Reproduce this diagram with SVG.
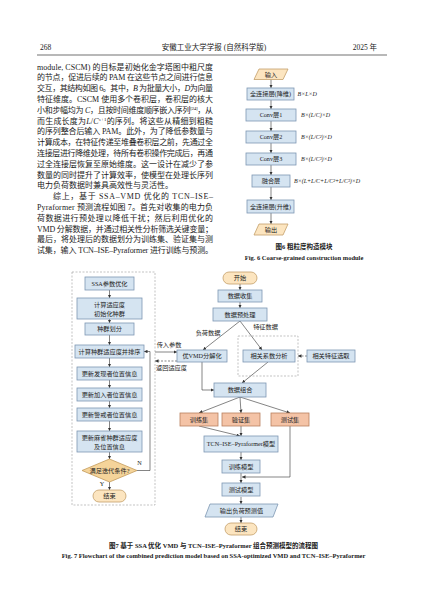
<svg xmlns="http://www.w3.org/2000/svg" width="427" height="603" viewBox="0 0 427 603">
<defs>
<style>
.pg{font-family:"Liberation Serif","Noto Sans CJK SC",serif;fill:#1a1a1a}
.body{font-size:8px}
.hd{font-size:7.5px}
.bx{fill:#d5e4f1;stroke:#7d97b3;stroke-width:0.8}
.term{fill:#fce5c0;stroke:#c4a06a;stroke-width:0.8}
.set{fill:#f4c3a6;stroke:#b9805f;stroke-width:0.8}
.dia{fill:#f5d49a;stroke:#c39a5a;stroke-width:0.8}
.t{font-family:"Liberation Serif","Noto Sans CJK SC",serif;font-size:6.2px;text-anchor:middle;fill:#222}
.lab{font-family:"Liberation Serif","Noto Sans CJK SC",serif;font-size:6px;font-style:italic;fill:#222}
.cap{font-family:"Liberation Serif","Noto Sans CJK SC",serif;font-size:6.5px;font-weight:bold;text-anchor:middle;fill:#1a1a1a}
.c{fill:none;stroke:#333;stroke-width:0.6}
.dash{stroke-dasharray:2 1.5}
.dbox{fill:none;stroke:#9a9a9a;stroke-width:0.6;stroke-dasharray:2 1.5}
.i{font-style:italic}
</style>
<marker id="ah" viewBox="0 0 6 6" refX="6" refY="3" markerWidth="3.5" markerHeight="3.5" orient="auto" markerUnits="userSpaceOnUse"><path d="M0,0 L6,3 L0,6 z" fill="#333"/></marker>
</defs>
<rect width="427" height="603" fill="#ffffff"/>

<!-- header -->
<g id="header" class="pg hd">
<text x="40" y="49.5">268</text>
<text x="214" y="49.5" text-anchor="middle">安徽工业大学学报 (自然科学版)</text>
<text x="377" y="49.5" text-anchor="end">2025 年</text>
<line x1="37" y1="55" x2="387" y2="55" stroke="#333" stroke-width="0.7"/>
</g>

<!-- body text -->
<g id="bodytext" class="pg body">
<text x="37" y="69.5" textLength="176" lengthAdjust="spacing">module, CSCM) 的目标是初始化金字塔图中粗尺度</text>
<text x="37" y="80.3" textLength="176" lengthAdjust="spacing">的节点，促进后续的 PAM 在这些节点之间进行信息</text>
<text x="37" y="91.1" textLength="176" lengthAdjust="spacing">交互，其结构如图 6。其中，<tspan class="i">B</tspan> 为批量大小，<tspan class="i">D</tspan>为向量</text>
<text x="37" y="101.9" textLength="176" lengthAdjust="spacing">特征维度。CSCM 使用多个卷积层，卷积层的核大</text>
<text x="37" y="112.7" textLength="176" lengthAdjust="spacing">小和步幅均为 <tspan class="i">C</tspan>，且按时间维度顺序嵌入序列<tspan font-size="5" dy="-3">[24]</tspan><tspan dy="3">，从</tspan></text>
<text x="37" y="123.5" textLength="176" lengthAdjust="spacing">而生成长度为<tspan class="i">L</tspan>/<tspan class="i">C</tspan><tspan font-size="5" dy="-3" class="i">s</tspan><tspan font-size="5">+1</tspan><tspan dy="3">的序列。将这些从精细到粗糙</tspan></text>
<text x="37" y="134.3" textLength="176" lengthAdjust="spacing">的序列整合后输入 PAM。此外，为了降低参数量与</text>
<text x="37" y="145.1" textLength="176" lengthAdjust="spacing">计算成本，在特征传递至堆叠卷积层之前，先通过全</text>
<text x="37" y="155.9" textLength="176" lengthAdjust="spacing">连接层进行降维处理，待所有卷积操作完成后，再通</text>
<text x="37" y="166.7" textLength="176" lengthAdjust="spacing">过全连接层恢复至原始维度。这一设计在减少了参</text>
<text x="37" y="177.5" textLength="176" lengthAdjust="spacing">数量的同时提升了计算效率，使模型在处理长序列</text>
<text x="37" y="188.3">电力负荷数据时兼具高效性与灵活性。</text>
<text x="53" y="199.1" textLength="160" lengthAdjust="spacing">综上，基于 SSA–VMD 优化的 TCN–ISE–</text>
<text x="37" y="209.9" textLength="176" lengthAdjust="spacing">Pyraformer 预测流程如图 7。首先对收集的电力负</text>
<text x="37" y="220.7" textLength="176" lengthAdjust="spacing">荷数据进行预处理以降低干扰；然后利用优化的</text>
<text x="37" y="231.5" textLength="176" lengthAdjust="spacing">VMD 分解数据，并通过相关性分析筛选关键变量；</text>
<text x="37" y="242.3" textLength="176" lengthAdjust="spacing">最后，将处理后的数据划分为训练集、验证集与测</text>
<text x="37" y="253.1" textLength="176" lengthAdjust="spacing">试集，输入 TCN–ISE–Pyraformer 进行训练与预测。</text>
</g>

<!-- ===== Fig 6 ===== -->
<g id="f6-connectors">
<line class="c" x1="271" y1="79.5" x2="271" y2="88" marker-end="url(#ah)"/>
<line class="c" x1="271" y1="100" x2="271" y2="109" marker-end="url(#ah)"/>
<line class="c" x1="271" y1="121" x2="271" y2="131" marker-end="url(#ah)"/>
<line class="c" x1="271" y1="143" x2="271" y2="153" marker-end="url(#ah)"/>
<line class="c" x1="271" y1="165" x2="271" y2="175" marker-end="url(#ah)"/>
<line class="c" x1="271" y1="187" x2="271" y2="200" marker-end="url(#ah)"/>
<line class="c" x1="271" y1="213" x2="271" y2="224" marker-end="url(#ah)"/>
</g>
<g id="f6-in"><polygon class="term" points="259,69 288,69 283,79.5 254,79.5"/><text class="t" x="271" y="76.6">输入</text></g>
<g id="f6-fc1"><rect class="bx" x="247" y="88" width="47" height="12"/><text class="t" x="270.5" y="96.2">全连接层(降维)</text><text class="lab" x="297.5" y="96.2">B×L×D</text></g>
<g id="f6-c1"><rect class="bx" x="246" y="109" width="50" height="12"/><text class="t" x="271" y="117.2">Conv层1</text><text class="lab" x="301" y="117.2">B×(L/C)×D</text></g>
<g id="f6-c2"><rect class="bx" x="246" y="131" width="50" height="12"/><text class="t" x="271" y="139.2">Conv层2</text><text class="lab" x="301" y="139.2">B×(L/C²)×D</text></g>
<g id="f6-c3"><rect class="bx" x="246" y="153" width="50" height="12"/><text class="t" x="271" y="161.2">Conv层3</text><text class="lab" x="301" y="161.2">B×(L/C³)×D</text></g>
<g id="f6-fuse"><rect class="bx" x="252" y="175" width="38" height="12"/><text class="t" x="271" y="183.2">融合层</text><text class="lab" x="294" y="183.2">B×(L+L/C+L/C²+L/C³)×D</text></g>
<g id="f6-fc2"><rect class="bx" x="247" y="200" width="47" height="13"/><text class="t" x="270.5" y="208.7">全连接层(升维)</text></g>
<g id="f6-out"><polygon class="term" points="259,224 288,224 283,235 254,235"/><text class="t" x="271" y="231.8">输出</text></g>
<g id="f6-caption">
<text class="cap" x="304" y="248.5">图6  粗粒度构造模块</text>
<text class="cap" x="304" y="259.5">Fig. 6   Coarse-grained construction module</text>
</g>

<!-- ===== Fig 7 ===== -->
<g id="f7-connectors">
<!-- SSA column -->
<line class="c" x1="109.5" y1="290" x2="109.5" y2="298" marker-end="url(#ah)"/>
<line class="c" x1="109.5" y1="319" x2="109.5" y2="323" marker-end="url(#ah)"/>
<line class="c" x1="109.5" y1="335" x2="109.5" y2="345" marker-end="url(#ah)"/>
<line class="c" x1="109.5" y1="358" x2="109.5" y2="367" marker-end="url(#ah)"/>
<line class="c" x1="109.5" y1="380" x2="109.5" y2="388" marker-end="url(#ah)"/>
<line class="c" x1="109.5" y1="401" x2="109.5" y2="408" marker-end="url(#ah)"/>
<line class="c" x1="109.5" y1="421" x2="109.5" y2="431" marker-end="url(#ah)"/>
<line class="c" x1="109.5" y1="452" x2="109.5" y2="459" marker-end="url(#ah)"/>
<line class="c" x1="109.5" y1="482" x2="109.5" y2="490" marker-end="url(#ah)"/>
<polyline class="c" points="137,470.5 150,470.5 150,351.5 144,351.5" marker-end="url(#ah)"/>
<!-- links SSA <-> VMD -->
<line class="c" x1="155" y1="352" x2="177" y2="352" marker-end="url(#ah)"/>
<line class="c dash" x1="177" y1="361" x2="155" y2="361" marker-end="url(#ah)"/>
<!-- main column -->
<line class="c" x1="240" y1="284" x2="240" y2="290" marker-end="url(#ah)"/>
<line class="c" x1="240" y1="302" x2="240" y2="308" marker-end="url(#ah)"/>
<line class="c" x1="240" y1="321" x2="203" y2="350" marker-end="url(#ah)"/>
<line class="c" x1="240" y1="321" x2="262" y2="350" marker-end="url(#ah)"/>
<line class="c dash" x1="307" y1="356" x2="298" y2="356" marker-end="url(#ah)"/>
<polyline class="c" points="202,362 202,390 214,390" marker-end="url(#ah)"/>
<line class="c" x1="268" y1="362" x2="242" y2="383" marker-end="url(#ah)"/>
<line class="c" x1="240" y1="397" x2="199" y2="413" marker-end="url(#ah)"/>
<line class="c" x1="240" y1="397" x2="241" y2="413" marker-end="url(#ah)"/>
<line class="c" x1="240" y1="397" x2="290" y2="413" marker-end="url(#ah)"/>
<line class="c" x1="199" y1="426" x2="240" y2="436" marker-end="url(#ah)"/>
<line class="c" x1="241" y1="426" x2="241" y2="436" marker-end="url(#ah)"/>
<line class="c" x1="241" y1="452" x2="241" y2="460" marker-end="url(#ah)"/>
<line class="c" x1="241" y1="473" x2="241" y2="483" marker-end="url(#ah)"/>
<polyline class="c" points="290,426 290,477 242,477" marker-end="url(#ah)"/>
<line class="c" x1="241" y1="497" x2="241" y2="504" marker-end="url(#ah)"/>
<line class="c" x1="241" y1="517" x2="241" y2="523" marker-end="url(#ah)"/>
<!-- connector labels -->
<text class="t" x="169" y="347">传入参数</text>
<text class="t" x="171.5" y="370">返回适应度</text>
<text class="t" x="208" y="335">负荷数据</text>
<text class="t" x="265.5" y="328.5">特征数据</text>
<text class="t" x="139.5" y="464.5" font-size="6.5">N</text>
<text class="t" x="102" y="485.5" font-size="6.5">Y</text>
</g>

<g id="ssa-frame"><rect class="dbox" x="72" y="272" width="83" height="233"/></g>
<g id="ssa-opt"><rect class="bx" x="85" y="277" width="49" height="13"/><text class="t" x="109.5" y="285.7">SSA参数优化</text></g>
<g id="calc-fit"><rect class="bx" x="77" y="298" width="65" height="21"/><text class="t" x="109.5" y="306.5">计算适应度</text><text class="t" x="109.5" y="315.5">初始化种群</text></g>
<g id="pop-div"><rect class="bx" x="85" y="323" width="49" height="12"/><text class="t" x="109.5" y="331.2">种群划分</text></g>
<g id="fit-sort"><rect class="bx" x="75" y="345" width="69" height="13"/><text class="t" x="109.5" y="353.7">计算种群适应度并排序</text></g>
<g id="upd-finder"><rect class="bx" x="77" y="367" width="65" height="13"/><text class="t" x="109.5" y="375.7">更新发现者位置信息</text></g>
<g id="upd-joiner"><rect class="bx" x="77" y="388" width="65" height="13"/><text class="t" x="109.5" y="396.7">更新加入者位置信息</text></g>
<g id="upd-guard"><rect class="bx" x="77" y="408" width="65" height="13"/><text class="t" x="109.5" y="416.7">更新警戒者位置信息</text></g>
<g id="upd-all"><rect class="bx" x="77" y="431" width="65" height="21"/><text class="t" x="109.5" y="439.5">更新麻雀种群适应度</text><text class="t" x="109.5" y="448.5">及位置信息</text></g>
<g id="iter-cond"><polygon class="dia" points="109.5,459 137,470.5 109.5,482 82,470.5"/><text class="t" x="109.5" y="472.7">满足迭代条件?</text></g>
<g id="ssa-end"><rect class="term" x="93" y="490" width="33" height="12" rx="6"/><text class="t" x="109.5" y="498.2">结束</text></g>

<g id="start"><rect class="term" x="223" y="272" width="34" height="12" rx="6"/><text class="t" x="240" y="280.2">开始</text></g>
<g id="collect"><rect class="bx" x="218" y="290" width="44" height="12"/><text class="t" x="240" y="298.2">数据收集</text></g>
<g id="preproc"><rect class="bx" x="213" y="308" width="54" height="13"/><text class="t" x="240" y="316.7">数据预处理</text></g>
<g id="vmd"><rect class="bx" x="177" y="350" width="50" height="12"/><text class="t" x="202" y="358.2">优VMD分解化</text></g>
<g id="corr-frame"><rect class="dbox" x="238" y="336" width="60" height="40"/></g>
<g id="corr"><rect class="bx" x="243" y="350" width="52" height="12"/><text class="t" x="269" y="358.2">相关系数分析</text></g>
<g id="featsel"><rect class="bx" x="307" y="350" width="48" height="12"/><text class="t" x="331" y="358.2">相关特征选取</text></g>
<g id="combine"><rect class="bx" x="214" y="383" width="52" height="14"/><text class="t" x="240" y="392.2">数据组合</text></g>
<g id="train-set"><rect class="set" x="180" y="413" width="38" height="13"/><text class="t" x="199" y="421.7">训练集</text></g>
<g id="val-set"><rect class="set" x="222" y="413" width="38" height="13"/><text class="t" x="241" y="421.7">验证集</text></g>
<g id="test-set"><rect class="set" x="271" y="413" width="38" height="13"/><text class="t" x="290" y="421.7">测试集</text></g>
<g id="model"><rect class="bx" x="204" y="436" width="74" height="16"/><text class="t" x="241" y="446.2">TCN–ISE–Pyraformer模型</text></g>
<g id="train-model"><rect class="bx" x="222" y="460" width="38" height="13"/><text class="t" x="241" y="468.7">训练模型</text></g>
<g id="test-model"><rect class="bx" x="222" y="483" width="38" height="13"/><text class="t" x="241" y="491.7">测试模型</text></g>
<g id="output"><polygon class="bx" points="210,504 278,504 273,517 205,517"/><text class="t" x="241.5" y="512.7">输出负荷预测值</text></g>
<g id="main-end"><rect class="term" x="225" y="523" width="32" height="12" rx="6"/><text class="t" x="241" y="531.2">结束</text></g>

<g id="f7-caption">
<text class="cap" x="213.5" y="548">图7   基于 SSA 优化 VMD 与 TCN–ISE–Pyraformer 组合预测模型的流程图</text>
<text class="cap" x="213.5" y="558">Fig. 7   Flowchart of the combined prediction model based on SSA-optimized VMD and TCN–ISE–Pyraformer</text>
</g>
</svg>
